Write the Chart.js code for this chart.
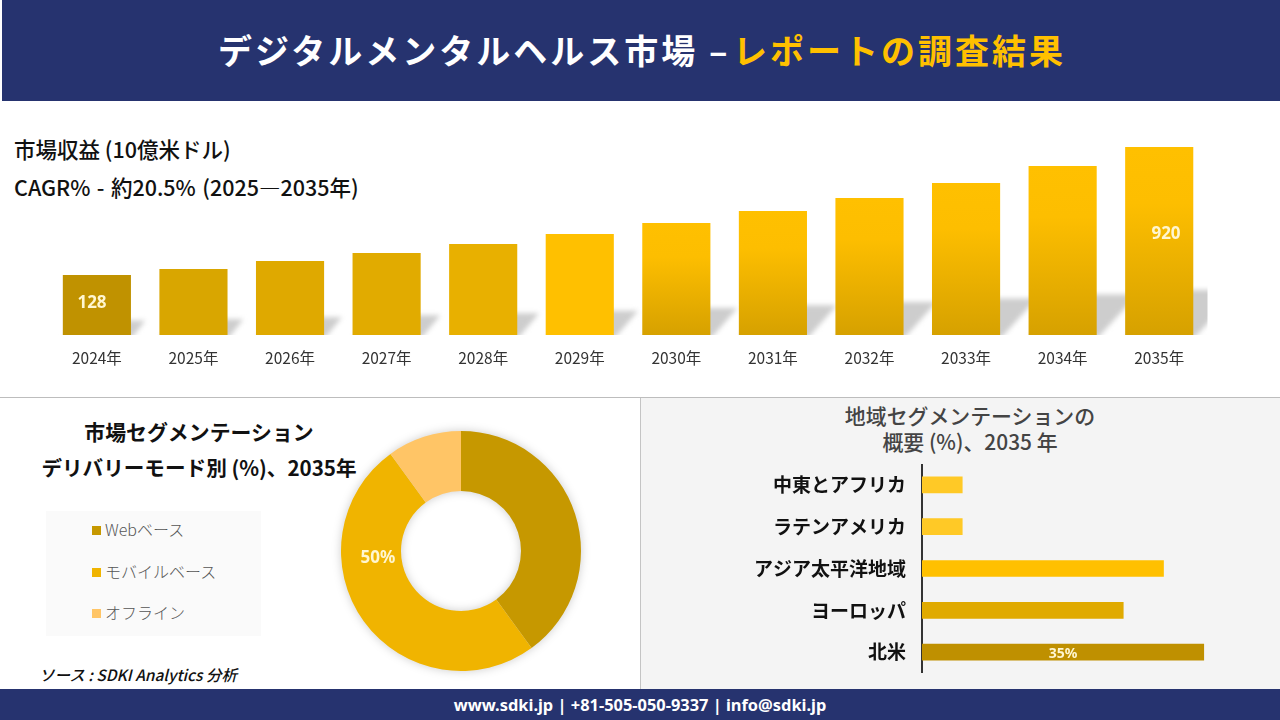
<!DOCTYPE html>
<html lang="ja">
<head>
<meta charset="utf-8">
<title>デジタルメンタルヘルス市場</title>
<script src="https://cdn.jsdelivr.net/npm/chart.js@4"></script>
<style>
  html, body { margin: 0; padding: 0; background: #fff; }
  body { width: 1280px; height: 720px; position: relative; overflow: hidden;
         font-family: "Noto Sans CJK JP", "Noto Sans", sans-serif; color: #111; }
  .abs { position: absolute; white-space: nowrap; }
  canvas { position: absolute; }
  .header { left: 2px; top: 0; width: 1278px; height: 101px; background: #26336f; }
  .footer { left: 0; top: 689px; width: 1280px; height: 31px; background: #26336f; color: #fff;
            font: 700 16.4px/31px "Noto Sans", sans-serif; text-align: center; }
  .head-txt { top: 49px; transform: translateY(-50%); font-size: 34px; font-weight: 700; letter-spacing: 3px; }
  .sub { font-size: 21.5px; font-weight: 500; transform: translateY(-50%); }
  .seg { font-size: 20.9px; font-weight: 700; transform: translate(-50%, -50%); }
  .value { font: 700 17px "Noto Sans", sans-serif; color: #fff6d0; transform: translate(-50%, -50%); z-index: 2; }
  #legend-box { left: 46px; top: 511px; width: 215px; height: 125px; background: #fafafa; }
  .swatch { width: 9px; height: 9px; left: 92px; }
  .leg-txt { left: 105px; font-size: 16px; font-weight: 300; color: #555; transform: translateY(-50%); }
</style>
</head>
<body>
<div class="abs header"></div>
<div class="abs head-txt" style="left:218px;color:#fff">デジタルメンタルヘルス市場 –</div>
<div class="abs head-txt" style="left:733px;color:#ffc000">レポートの調査結果</div>

<div class="abs sub" style="left:14px;top:148px">市場収益 (10億米ドル)</div>
<div class="abs sub" style="left:14px;top:186px;word-spacing:1.6px">CAGR% - 約20.5% (2025—2035年)</div>

<div class="abs" style="left:0;top:397px;width:1280px;height:1px;background:#bdbdbd"></div>
<div class="abs" style="left:641px;top:398px;width:639px;height:291px;background:#f4f4f4"></div>
<div class="abs" style="left:640px;top:398px;width:1px;height:291px;background:#c4c4c4"></div>

<div class="abs seg" style="left:199px;top:431px">市場セグメンテーション</div>
<div class="abs seg" style="left:199px;top:467px;font-size:20.6px">デリバリーモード別 (%)、2035年</div>
<div class="abs" id="legend-box"></div>
<div class="abs" style="left:39px;top:674px;transform:translateY(-50%);font-size:15.5px;font-style:italic;font-weight:500">ソース : SDKI Analytics 分析</div>

<div class="abs seg" style="left:970px;top:415px;color:#444;font-weight:500">地域セグメンテーションの</div>
<div class="abs seg" style="left:970px;top:441px;color:#444;font-weight:500">概要 (%)、2035 年</div>

<canvas id="revenue-chart" style="left:0;top:100px" width="1280" height="280"></canvas>
<canvas id="mode-chart" style="left:331px;top:421px;filter:drop-shadow(0 0 5px rgba(0,0,0,.2))" width="260" height="260"></canvas>
<canvas id="region-chart" style="left:640px;top:464px" width="640" height="209"></canvas>

<div class="abs footer">www.sdki.jp | +81-505-050-9337 | info@sdki.jp</div>

<script>
// Market revenue (only 2024 and 2035 are printed, the rest)
const years = ['2024年','2025年','2026年','2027年','2028年','2029年','2030年','2031年','2032年','2033年','2034年','2035年'];
const revenue = [128, 165, 215, 264, 320, 382, 450, 524, 605, 698, 803, 920];
// the reference's bars do not start at zero
const revenueAxisMin = -243;
const revenueAxisMax = 1211;

const modes = ['Webベース', 'モバイルベース', 'オフライン'];
const modeShare = [40, 50, 10];
const modeColors = ['#c69800', '#f0b400', '#ffc566'];

const regions = ['中東とアフリカ', 'ラテンアメリカ', 'アジア太平洋地域', 'ヨーロッパ', '北米'];
const regionShare = [5, 5, 30, 25, 35];
const regionColors = ['#ffc926', '#ffc926', '#ffc000', '#e0aa00', '#bf9000'];

Chart.defaults.animation = false;
Chart.defaults.responsive = false;
Chart.defaults.font.family = '"Noto Sans CJK JP", "Noto Sans", sans-serif';

function addValue(text, x, y, size) {
  const el = document.createElement('div');
  el.className = 'abs value';
  el.textContent = text;
  el.style.left = x + 'px';
  el.style.top = y + 'px';
  if (size) el.style.fontSize = size + 'px';
  document.body.appendChild(el);
}

// Slanted grey shadow behind each revenue bar
const barShadow = {
  id: 'barShadow',
  beforeDatasetsDraw(chart) {
    const { ctx, chartArea } = chart;
    ctx.save();
    ctx.beginPath();
    ctx.rect(chartArea.left, chartArea.top, chartArea.width, chartArea.height);
    ctx.clip();
    ctx.filter = 'blur(2.5px)';
    ctx.fillStyle = '#cdcdcd';
    chart.getDatasetMeta(0).data.forEach(bar => {
      const half = bar.width / 2;
      const rise = (bar.base - bar.y) * 0.24;
      ctx.beginPath();
      ctx.moveTo(bar.x - half, bar.base + 4);
      ctx.lineTo(bar.x + half, bar.base + 4);
      ctx.lineTo(bar.x + half + rise, bar.base - rise);
      ctx.lineTo(bar.x - half + rise, bar.base - rise);
      ctx.closePath();
      ctx.fill();
    });
    ctx.restore();
  }
};

const flatBarColors = ['#c09200', '#d9a600', '#dfa900', '#e1ab00', '#e8b000', '#ffc000'];

function revenueBarColor(context) {
  const { chart, dataIndex } = context;
  const area = chart.chartArea;
  if (!area) return '#ffc000';
  if (dataIndex < flatBarColors.length) return flatBarColors[dataIndex];
  const top = chart.scales.y.getPixelForValue(revenue[dataIndex]);
  const grad = chart.ctx.createLinearGradient(0, top, 0, area.bottom);
  grad.addColorStop(0, '#ffc000');
  grad.addColorStop(0.3, '#fdbe00');
  grad.addColorStop(1, '#d6a100');
  return grad;
}

new Chart(document.getElementById('revenue-chart'), {
  type: 'bar',
  data: {
    labels: years,
    datasets: [{
      data: revenue,
      base: revenueAxisMin,
      backgroundColor: revenueBarColor,
      categoryPercentage: 0.85,
      barPercentage: 0.83
    }]
  },
  options: {
    layout: { padding: { left: 48.6, right: 72.5, top: 0, bottom: 0 } },
    plugins: { legend: { display: false }, tooltip: { enabled: false } },
    scales: {
      x: {
        grid: { display: false },
        border: { display: false },
        ticks: { color: '#333', font: { size: 15.5 }, padding: 6, maxRotation: 0 },
        afterFit: scale => { scale.height = 45; }
      },
      y: { display: false, min: revenueAxisMin, max: revenueAxisMax }
    }
  },
  plugins: [barShadow]
});

new Chart(document.getElementById('mode-chart'), {
  type: 'doughnut',
  data: {
    labels: modes,
    datasets: [{ data: modeShare, backgroundColor: modeColors, borderWidth: 0 }]
  },
  options: {
    cutout: '50%',
    layout: { padding: 10 },
    plugins: { legend: { display: false }, tooltip: { enabled: false } }
  }
});

new Chart(document.getElementById('region-chart'), {
  type: 'bar',
  data: {
    labels: regions,
    datasets: [{
      data: regionShare,
      backgroundColor: regionColors,
      barThickness: 16
    }]
  },
  options: {
    indexAxis: 'y',
    layout: { padding: { left: 0, right: 36 } },
    plugins: { legend: { display: false }, tooltip: { enabled: false } },
    scales: {
      x: { display: false, min: 0, max: 40 },
      y: {
        grid: { display: false, drawTicks: false },
        border: { color: '#333', width: 2 },
        ticks: { color: '#111', font: { size: 19, weight: '700' }, padding: 16 },
        afterFit: scale => {
          scale.width = 282;
          // keep the plot at the full canvas height, no room for tick overhang
          scale.paddingTop = 0;
          scale.paddingBottom = 0;
        }
      }
    }
  }
});

// Legend for the doughnut, built from the same arrays
const legendY = [529, 571, 612];
modes.forEach((name, i) => {
  const sw = document.createElement('div');
  sw.className = 'abs swatch';
  sw.style.top = (legendY[i] - 3) + 'px';
  sw.style.background = modeColors[i];
  document.body.appendChild(sw);
  const txt = document.createElement('div');
  txt.className = 'abs leg-txt';
  txt.style.top = legendY[i] + 'px';
  txt.textContent = name;
  document.body.appendChild(txt);
});

addValue(String(revenue[0]), 92, 301);
addValue(String(revenue[11]), 1166, 232);
addValue(modeShare[1] + '%', 378, 556);
addValue(regionShare[4] + '%', 1063, 652, 14);
</script>
</body>
</html>
